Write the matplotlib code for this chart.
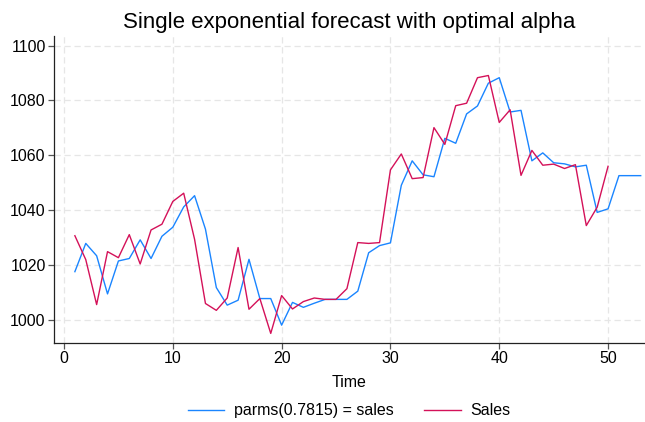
import numpy as np
import matplotlib.pyplot as plt

# Sales observed for periods 1..50, forecast for periods 1..53
time_sales = np.arange(1, 51)
sales = [1030.7, 1022.0, 1005.6, 1024.9, 1022.7, 1031.1, 1020.4, 1032.8, 1034.9, 1043.2,
         1046.2, 1029.4, 1006.0, 1003.5, 1008.0, 1026.4, 1003.9, 1007.8, 995.1, 1008.9,
         1004.0, 1006.7, 1008.0, 1007.5, 1007.5, 1011.4, 1028.2, 1027.9, 1028.2, 1054.7,
         1060.5, 1051.5, 1051.9, 1070.1, 1064.0, 1078.1, 1079.0, 1088.3, 1089.1, 1072.0,
         1076.6, 1052.7, 1061.8, 1056.4, 1056.8, 1055.2, 1056.6, 1034.4, 1041.1, 1056.0]

time_fc = np.arange(1, 54)
forecast = [1017.6, 1027.9, 1023.4, 1009.5, 1021.5, 1022.4, 1029.2, 1022.4, 1030.5, 1033.8,
            1041.2, 1045.3, 1033.1, 1011.8, 1005.4, 1007.2, 1022.1, 1007.8, 1007.8, 998.1,
            1006.4, 1004.6, 1006.1, 1007.5, 1007.5, 1007.5, 1010.5, 1024.5, 1027.1, 1028.1,
            1049.1, 1058.0, 1052.9, 1052.2, 1066.2, 1064.4, 1075.1, 1078.0, 1086.3, 1088.3,
            1075.8, 1076.4, 1058.0, 1060.9, 1057.3, 1056.9, 1055.8, 1056.4, 1039.2, 1040.5,
            1052.6, 1052.6, 1052.6]

plt.rcParams['font.family'] = ['Liberation Sans', 'DejaVu Sans']

fig = plt.figure(figsize=(6.45, 4.22), dpi=100)
ax = fig.add_axes([0.0837, 0.1872, 0.9147, 0.7275])

ax.plot(time_fc, forecast, color='#1a85ff', lw=1.0, label='parms(0.7815) = sales')
ax.plot(time_sales, sales, color='#d41159', lw=1.0, label='Sales')

ax.set_xlim(-0.92, 53.3)
ax.set_ylim(991.6, 1103.5)
ax.set_xticks(range(0, 51, 10))
ax.set_yticks(range(1000, 1101, 20))
ax.grid(True, color='#e6e6e6', ls=(0, (5, 3)), lw=0.9)
ax.set_axisbelow(True)

for s in ['top', 'right']:
    ax.spines[s].set_visible(False)
for s in ['left', 'bottom']:
    ax.spines[s].set_color('#222222')
    ax.spines[s].set_linewidth(0.9)
ax.tick_params(length=4, width=0.9, color='#555555', labelsize=11.5, pad=2)

ax.set_xlabel('Time', fontsize=11.5, labelpad=6)
fig.suptitle('Single exponential forecast with optimal alpha', fontsize=16, x=0.541, y=0.972)

fig.legend(loc='lower center', bbox_to_anchor=(0.541, -0.025), ncol=2, frameon=False,
           fontsize=11.5, handlelength=2.3, handletextpad=0.6, columnspacing=1.9)

plt.savefig('out.png', dpi=100)
